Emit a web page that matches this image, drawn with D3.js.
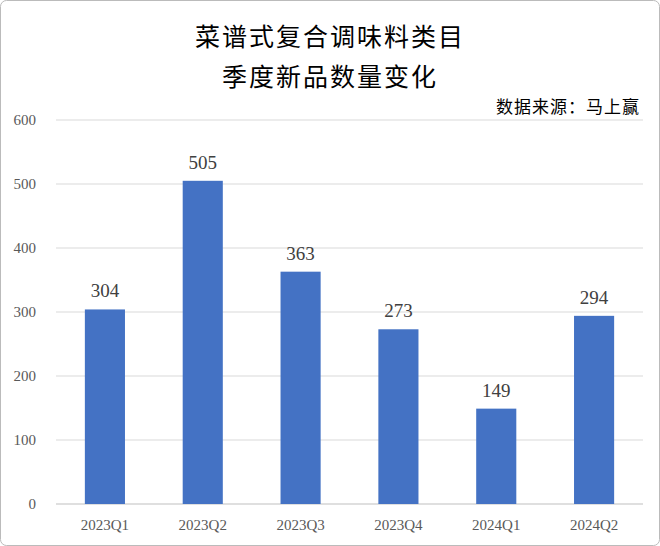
<!DOCTYPE html>
<html><head><meta charset="utf-8">
<script src="https://cdn.jsdelivr.net/npm/d3@7"></script>
<style>body{margin:0;background:#fff}</style></head>
<body><svg id="c" width="660" height="546"></svg>
<script>
const categories=["2023Q1","2023Q2","2023Q3","2023Q4","2024Q1","2024Q2"];
const values=[304,505,363,273,149,294];
const yTicks=[0,100,200,300,400,500,600];
const svg=d3.select("#c");
svg.append("rect").attr("x",0.5).attr("y",0.5).attr("width",659).attr("height",545).attr("rx",6).attr("fill","#fff").attr("stroke","#bbb");
const x=d3.scaleBand().domain(categories).range([56,643]).paddingInner(0.59).paddingOuter(0.295);
const y=d3.scaleLinear().domain([0,600]).range([504,120]);
const cjk="'Noto Sans CJK SC',sans-serif", serif="'Liberation Serif',serif";
svg.append("g").selectAll("line").data(yTicks).join("line")
 .attr("x1",56).attr("x2",643).attr("y1",d=>y(d)).attr("y2",d=>y(d))
 .attr("stroke",d=>d===0?"#bfbfbf":"#d9d9d9");
svg.append("g").selectAll("text").data(yTicks).join("text")
 .attr("x",36).attr("y",d=>y(d)+5).attr("text-anchor","end").attr("font-family",serif).attr("font-size",15).attr("fill","#595959").text(d=>d);
svg.append("g").selectAll("rect").data(values).join("rect")
 .attr("x",(d,i)=>x(categories[i])).attr("width",x.bandwidth()).attr("y",d=>y(d)).attr("height",d=>y(0)-y(d)).attr("fill","#4472c4");
svg.append("g").selectAll("text").data(values).join("text")
 .attr("x",(d,i)=>x(categories[i])+x.bandwidth()/2).attr("y",d=>y(d)-12).attr("text-anchor","middle")
 .attr("font-family",serif).attr("font-size",19).attr("fill","#404040").text(d=>d);
svg.append("g").selectAll("text").data(categories).join("text")
 .attr("x",d=>x(d)+x.bandwidth()/2).attr("y",530).attr("text-anchor","middle")
 .attr("font-family",serif).attr("font-size",15).attr("fill","#595959").text(d=>d);
svg.append("text").attr("x",330).attr("y",46).attr("text-anchor","middle").attr("font-family",cjk).attr("font-size",25).attr("letter-spacing",2).attr("fill","#000").text("菜谱式复合调味料类目");
svg.append("text").attr("x",330).attr("y",86).attr("text-anchor","middle").attr("font-family",cjk).attr("font-size",25).attr("letter-spacing",2).attr("fill","#000").text("季度新品数量变化");
svg.append("text").attr("x",640).attr("y",113).attr("text-anchor","end").attr("font-family",cjk).attr("font-size",17).attr("letter-spacing",1).attr("fill","#000").text("数据来源：马上赢");
</script></body></html>
